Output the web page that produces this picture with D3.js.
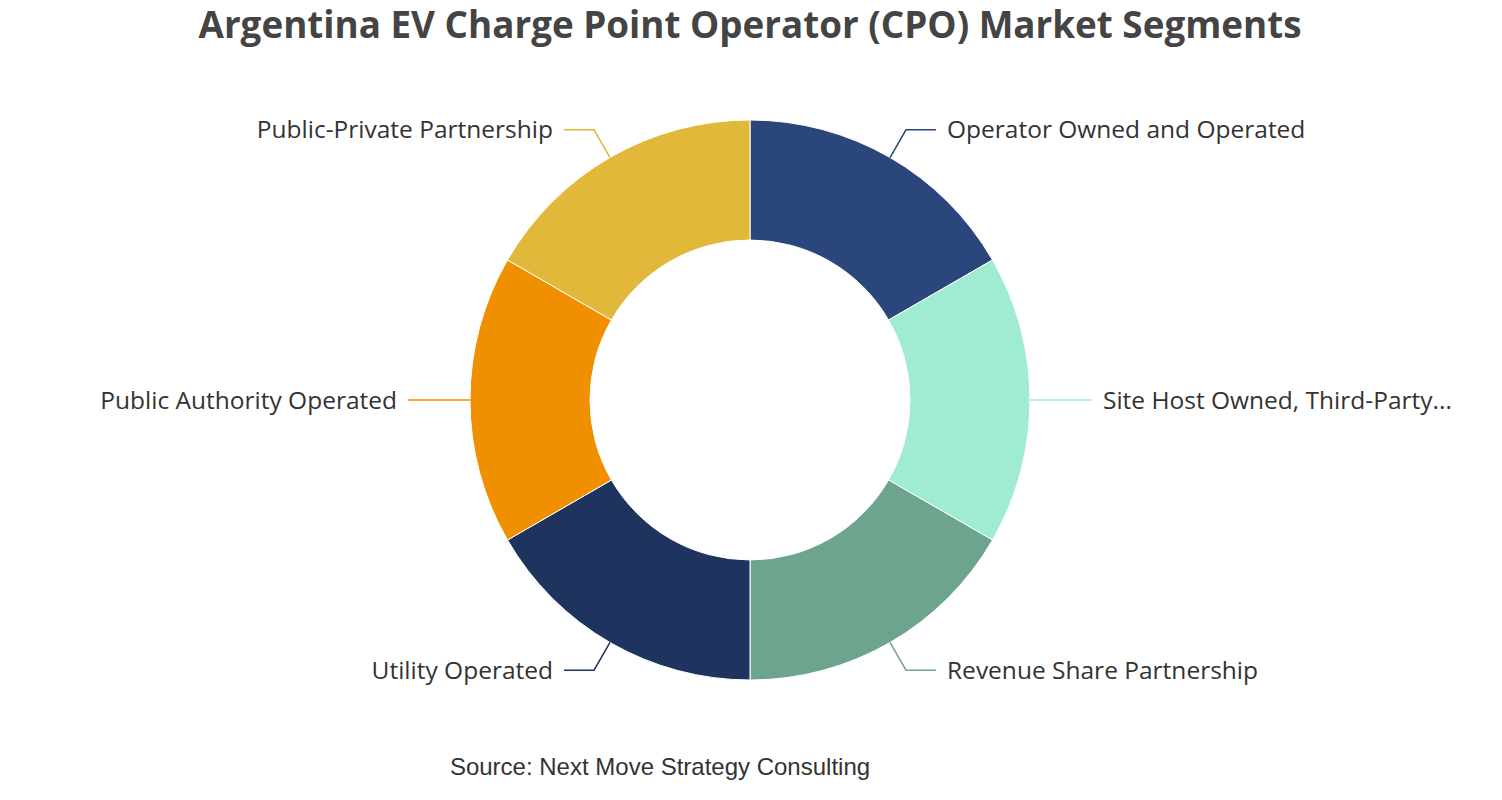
<!DOCTYPE html>
<html>
<head>
<meta charset="utf-8">
<script src="https://cdn.jsdelivr.net/npm/d3@7"></script>
<style>
  body { margin: 0; background: #fff; }
  svg { display: block; }
</style>
</head>
<body>
<svg id="chart"></svg>
<script>
const segments = [
  "Operator Owned and Operated",
  "Site Host Owned, Third-Party Operated",
  "Revenue Share Partnership",
  "Utility Operated",
  "Public Authority Operated",
  "Public-Private Partnership"
];
const shares = [1, 1, 1, 1, 1, 1];
const colors = ["#2a467b", "#a0ecd2", "#6da48e", "#1e345f", "#f08f00", "#e1b83a"];

const width = 1502, height = 800;
const cx = 750, cy = 400;
const outerR = 280, innerR = 160;

const svg = d3.select("#chart")
  .attr("width", width)
  .attr("height", height);

svg.append("text")
  .attr("x", cx)
  .attr("y", 38)
  .attr("text-anchor", "middle")
  .style("font-family", "'Open Sans', 'Noto Sans', sans-serif")
  .style("font-weight", "bold")
  .style("font-size", "36.8px")
  .style("fill", "#444")
  .text("Argentina EV Charge Point Operator (CPO) Market Segments");

const data = segments.map((s, i) => ({ name: s, value: shares[i], color: colors[i] }));

const pie = d3.pie().value(d => d.value).sort(null);
const arc = d3.arc().innerRadius(innerR).outerRadius(outerR);

const g = svg.append("g").attr("transform", `translate(${cx},${cy})`);

const arcs = pie(data);

g.selectAll("path.slice")
  .data(arcs)
  .enter()
  .append("path")
  .attr("class", "slice")
  .attr("d", arc)
  .attr("fill", d => d.data.color)
  .attr("stroke", "#fff")
  .attr("stroke-width", 1);

function truncate(s, maxLen) {
  return s.length > maxLen ? s.slice(0, maxLen) + "..." : s;
}

const len1 = 32, len2 = 30;
arcs.forEach(d => {
  const mid = (d.startAngle + d.endAngle) / 2;
  const sx = Math.sin(mid), sy = -Math.cos(mid);
  const p0 = [sx * outerR, sy * outerR];
  const p1 = [sx * (outerR + len1), sy * (outerR + len1)];
  const right = sx >= 0;
  const p2 = [p1[0] + (right ? len2 : -len2), p1[1]];
  g.append("polyline")
    .attr("points", [p0, p1, p2].map(p => p.join(",")).join(" "))
    .attr("fill", "none")
    .attr("stroke", d.data.color)
    .attr("stroke-width", 1.5);
  g.append("text")
    .attr("x", p2[0] + (right ? 11 : -11))
    .attr("y", p2[1])
    .attr("dy", "0.35em")
    .attr("text-anchor", right ? "start" : "end")
    .style("font-family", "'Open Sans', 'Noto Sans', sans-serif")
    .style("font-size", "24.5px")
    .style("fill", "#333")
    .text(truncate(d.data.name, 28));
});

svg.append("text")
  .attr("x", 660)
  .attr("y", 775)
  .attr("text-anchor", "middle")
  .style("font-family", "'Liberation Sans', Arial, sans-serif")
  .style("font-size", "24px")
  .style("fill", "#333")
  .text("Source: Next Move Strategy Consulting");
</script>
</body>
</html>
